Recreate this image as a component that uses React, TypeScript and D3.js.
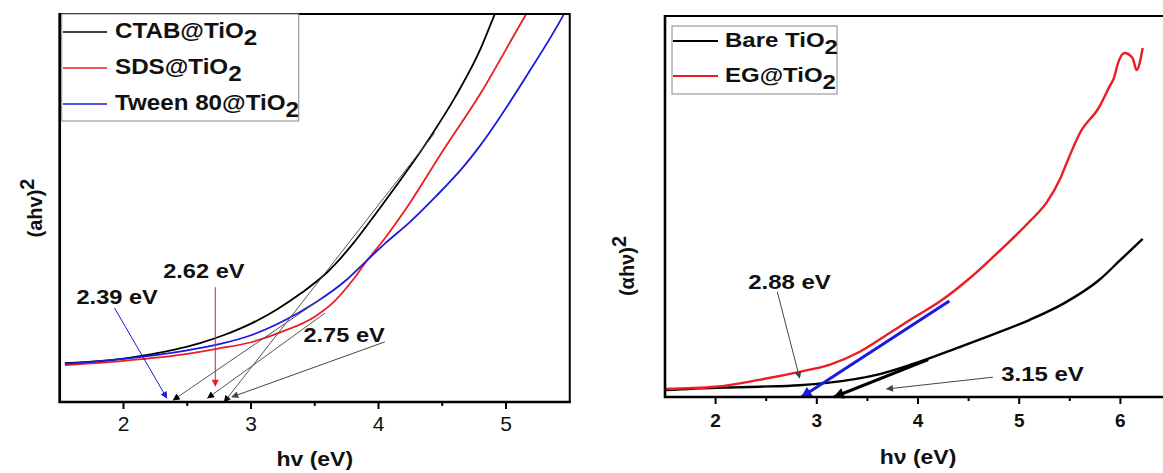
import React from "react";
import * as d3 from "d3";

// ---------- Left panel data ----------
const ctabX = [1.54, 1.8, 2.0, 2.2, 2.4, 2.6, 2.8, 3.0, 3.2, 3.4, 3.6, 3.8, 4.0, 4.2, 4.4, 4.6, 4.8, 4.9, 5.0];
const ctabY = [1.0, 1.05, 1.12, 1.22, 1.35, 1.52, 1.74, 2.02, 2.38, 2.82, 3.35, 4.08, 4.95, 5.85, 6.8, 7.85, 9.1, 9.9, 10.7];
const sdsX = [1.54, 2.0, 2.5, 2.75, 3.0, 3.25, 3.5, 3.65, 3.8, 3.9, 4.05, 4.25, 4.5, 4.8, 5.15, 5.25];
const sdsY = [0.95, 1.06, 1.24, 1.38, 1.54, 1.82, 2.2, 2.58, 3.15, 3.6, 4.22, 5.15, 6.45, 7.95, 9.95, 10.5];
const tweenX = [1.54, 2.0, 2.5, 2.75, 3.0, 3.25, 3.5, 3.75, 3.9, 4.05, 4.25, 4.45, 4.65, 4.8, 5.17, 5.45, 5.55];
const tweenY = [0.98, 1.11, 1.33, 1.49, 1.72, 2.08, 2.55, 3.15, 3.62, 4.08, 4.65, 5.3, 6.0, 6.62, 8.45, 9.97, 10.6];
const leftTicks = [2, 3, 4, 5];
const leftMinor = [2.5, 3.5, 4.5];
const leftLegend = ["CTAB@TiO", "SDS@TiO", "Tween 80@TiO"];
// tangents [x0,y0,x1,y1] from curve down to axis
const leftTangents = [
  [4.44, 6.93, 2.79, 0.0],
  [3.56, 2.68, 2.39, 0.05],
  [3.58, 2.29, 2.66, 0.1],
];
const leftLabels = [
  { t: "2.39 eV", x: 1.95, y: 2.71, ax0: 1.93, ay0: 2.42, ax1: 2.34, ay1: 0.1, c: "blue" },
  { t: "2.62 eV", x: 2.63, y: 3.38, ax0: 2.72, ay0: 2.96, ax1: 2.72, ay1: 0.41, c: "red" },
  { t: "2.75 eV", x: 3.73, y: 1.73, ax0: 4.05, ay0: 1.55, ax1: 2.85, ay1: 0.13, c: "gray" },
];

// ---------- Right panel data ----------
const bareX = [1.5, 2.0, 2.43, 2.83, 3.1, 3.59, 3.92, 4.41, 4.75, 5.1, 5.45, 5.79, 5.99, 6.22];
const bareY = [0.18, 0.24, 0.27, 0.31, 0.37, 0.58, 0.84, 1.31, 1.65, 2.02, 2.47, 3.07, 3.57, 4.15];
const egX = [1.5, 2.0, 2.43, 2.83, 3.13, 3.42, 3.72, 3.92, 4.24, 4.49, 4.74, 5.1, 5.27, 5.4, 5.47, 5.6, 5.79, 5.89, 5.94, 5.97, 6.04, 6.12, 6.16, 6.22];
const egY = [0.21, 0.27, 0.45, 0.66, 0.85, 1.18, 1.68, 2.02, 2.55, 3.07, 3.67, 4.6, 5.1, 5.7, 6.15, 6.93, 7.61, 8.14, 8.4, 8.71, 9.03, 8.9, 8.58, 9.16];
const rightTicks = [2, 3, 4, 5, 6];
const rightMinor = [2.5, 3.5, 4.5, 5.5];
const rightLegend = ["Bare TiO", "EG@TiO"];
const rightTangents = [
  { x0: 4.31, y0: 2.52, x1: 2.85, y1: 0.0, c: "blue" },
  { x0: 4.1, y0: 0.98, x1: 3.17, y1: 0.0, c: "black" },
];
const rightLabels = [
  { t: "2.88 eV", x: 2.73, y: 3.02, ax0: 2.61, ay0: 2.76, ax1: 2.83, ay1: 0.5 },
  { t: "3.15 eV", x: 5.23, y: 0.6, ax0: 4.74, ay0: 0.52, ax1: 3.69, ay1: 0.21 },
];

const FONT = "'Liberation Sans', Arial, Helvetica, sans-serif";
const RED = "#ec1c24";
const BLUE = "#1a1ae0";
const colorOf: Record<string, string> = { blue: BLUE, red: RED, gray: "#444", black: "#000" };

function zip(xs: number[], ys: number[]): [number, number][] {
  return xs.map((x, i) => [x, ys[i]]);
}

function SText(props: any) {
  const { x, y, size, sx = 1, weight = "bold", anchor = "start", fill = "#111", children } = props;
  return (
    <text
      transform={`translate(${x},${y}) scale(${sx},1)`}
      fontFamily={FONT}
      fontSize={size}
      fontWeight={weight}
      textAnchor={anchor}
      fill={fill}
    >
      {children}
    </text>
  );
}

export default function App() {
  const lx = d3.scaleLinear().domain([1.5, 5.5]).range([59.75, 569.75]);
  const ly = d3.scaleLinear().domain([0, 10]).range([402, 14]);
  const rx = d3.scaleLinear().domain([1.5, 6.5]).range([665, 1171]);
  const ry = d3.scaleLinear().domain([0, 10]).range([397, 16]);

  const lLine = d3.line<[number, number]>().x((d) => lx(d[0])).y((d) => ly(d[1])).curve(d3.curveMonotoneX);
  const rLine = d3.line<[number, number]>().x((d) => rx(d[0])).y((d) => ry(d[1])).curve(d3.curveMonotoneX);

  const leftSeries = [
    { d: zip(ctabX, ctabY), c: "#000" },
    { d: zip(sdsX, sdsY), c: RED },
    { d: zip(tweenX, tweenY), c: BLUE },
  ];
  const leftColors = ["#000", RED, BLUE];
  const rightColors = ["#000", RED];

  const markers = Object.entries(colorOf).map(([k, c]) => (
    <marker
      key={k}
      id={`ah-${k}`}
      viewBox="0 0 10 10"
      refX={9}
      refY={5}
      markerWidth={9}
      markerHeight={7}
      orient="auto"
      markerUnits="userSpaceOnUse"
    >
      <path d="M0,0 L10,5 L0,10 z" fill={c} />
    </marker>
  ));

  return (
    <svg width={1163} height={473} style={{ position: "absolute", left: 0, top: 0, background: "#fff" }}>
      <defs>
        {markers}
        <marker id="big-blue" viewBox="0 0 10 10" refX={9} refY={5} markerWidth={14} markerHeight={11} orient="auto" markerUnits="userSpaceOnUse">
          <path d="M0,0 L10,5 L0,10 z" fill={BLUE} />
        </marker>
        <marker id="big-black" viewBox="0 0 10 10" refX={9} refY={5} markerWidth={14} markerHeight={11} orient="auto" markerUnits="userSpaceOnUse">
          <path d="M0,0 L10,5 L0,10 z" fill="#000" />
        </marker>
        <clipPath id="clipL">
          <rect x={lx(1.5)} y={ly(10)} width={lx(5.5) - lx(1.5)} height={ly(0) - ly(10)} />
        </clipPath>
        <clipPath id="clipR">
          <rect x={rx(1.5)} y={ry(10)} width={rx(6.5) - rx(1.5)} height={ry(0) - ry(10)} />
        </clipPath>
      </defs>

      {/* ================= LEFT PANEL ================= */}
      <g clipPath="url(#clipL)">
        {leftSeries.map((s, i) => (
          <path key={i} d={lLine(s.d) || ""} fill="none" stroke={s.c} strokeWidth={1.8} />
        ))}
        {leftTangents.map((t, i) => (
          <line
            key={i}
            x1={lx(t[0])}
            y1={ly(t[1])}
            x2={lx(t[2])}
            y2={ly(t[3])}
            stroke="#555"
            strokeWidth={1}
            markerEnd="url(#ah-black)"
          />
        ))}
      </g>
      {leftLabels.map((l, i) => (
        <g key={i}>
          <line
            x1={lx(l.ax0)}
            y1={ly(l.ay0)}
            x2={lx(l.ax1)}
            y2={ly(l.ay1)}
            stroke={colorOf[l.c]}
            strokeWidth={1}
            markerEnd={`url(#ah-${l.c})`}
          />
          <SText x={lx(l.x)} y={ly(l.y) + 7} size={20} sx={1.18} anchor="middle">
            {l.t}
          </SText>
        </g>
      ))}
      <rect x={lx(1.5)} y={ly(10)} width={lx(5.5) - lx(1.5)} height={ly(0) - ly(10)} fill="none" stroke="#000" strokeWidth={2} />
      <line x1={lx(1.5)} y1={ly(10) - 1} x2={lx(1.5)} y2={ly(0) + 1} stroke="#000" strokeWidth={2.6} />
      <line x1={lx(1.5) - 1} y1={ly(0)} x2={lx(5.5) + 1} y2={ly(0)} stroke="#000" strokeWidth={2.6} />
      {leftTicks.map((t) => (
        <g key={t}>
          <line x1={lx(t)} x2={lx(t)} y1={ly(0)} y2={ly(0) + 7} stroke="#000" strokeWidth={2} />
          <text x={lx(t)} y={ly(0) + 28.5} fontFamily={FONT} fontSize={21} textAnchor="middle" fill="#111">
            {t}
          </text>
        </g>
      ))}
      {leftMinor.map((t) => (
        <line key={t} x1={lx(t)} x2={lx(t)} y1={ly(0)} y2={ly(0) + 4} stroke="#000" strokeWidth={2} />
      ))}
      <SText x={(lx(1.5) + lx(5.5)) / 2} y={466} size={20} sx={1.15} anchor="middle">
        hv (eV)
      </SText>
      <text transform={`translate(42,${(ly(0) + ly(10)) / 2}) rotate(-90)`} fontFamily={FONT} fontSize={20} fontWeight="bold" textAnchor="middle" fill="#111">
        (ahv)<tspan dy={-8}>2</tspan>
      </text>
      <rect x={lx(1.5) + 2} y={ly(10)} width={237} height={107} fill="#fff" stroke="#888" strokeWidth={1} />
      {leftLegend.map((name, i) => (
        <g key={name}>
          <line x1={63} x2={107} y1={32 + i * 36} y2={32 + i * 36} stroke={leftColors[i]} strokeWidth={1.6} />
          <SText x={115} y={38 + i * 36} size={22} sx={1.1}>
            {name}
            <tspan dy={7}>2</tspan>
          </SText>
        </g>
      ))}

      {/* ================= RIGHT PANEL ================= */}
      <g clipPath="url(#clipR)">
        <path d={rLine(zip(bareX, bareY)) || ""} fill="none" stroke="#000" strokeWidth={2.4} />
        <path d={rLine(zip(egX, egY)) || ""} fill="none" stroke={RED} strokeWidth={2.4} />
      </g>
      {rightTangents.map((t, i) => (
        <line
          key={i}
          x1={rx(t.x0)}
          y1={ry(t.y0)}
          x2={rx(t.x1)}
          y2={ry(t.y1)}
          stroke={colorOf[t.c]}
          strokeWidth={3}
          markerEnd={`url(#big-${t.c})`}
        />
      ))}
      {rightLabels.map((l, i) => (
        <g key={i}>
          <line
            x1={rx(l.ax0)}
            y1={ry(l.ay0)}
            x2={rx(l.ax1)}
            y2={ry(l.ay1)}
            stroke="#444"
            strokeWidth={1}
            markerEnd="url(#ah-gray)"
          />
          <SText x={rx(l.x)} y={ry(l.y) + 7} size={20} sx={1.2} anchor="middle">
            {l.t}
          </SText>
        </g>
      ))}
      <rect x={rx(1.5)} y={ry(10)} width={rx(6.5) - rx(1.5)} height={ry(0) - ry(10)} fill="none" stroke="#000" strokeWidth={2} />
      <line x1={rx(1.5)} y1={ry(10) - 1} x2={rx(1.5)} y2={ry(0) + 1} stroke="#000" strokeWidth={2.6} />
      <line x1={rx(1.5) - 1} y1={ry(0)} x2={rx(6.5)} y2={ry(0)} stroke="#000" strokeWidth={2.6} />
      {rightTicks.map((t) => (
        <g key={t}>
          <line x1={rx(t)} x2={rx(t)} y1={ry(0)} y2={ry(0) + 7} stroke="#000" strokeWidth={2} />
          <text x={rx(t)} y={ry(0) + 30} fontFamily={FONT} fontSize={19} fontWeight="bold" textAnchor="middle" fill="#111">
            {t}
          </text>
        </g>
      ))}
      {rightMinor.map((t) => (
        <line key={t} x1={rx(t)} x2={rx(t)} y1={ry(0)} y2={ry(0) + 4} stroke="#000" strokeWidth={2} />
      ))}
      <SText x={rx(4)} y={464} size={20} sx={1.15} anchor="middle">
        hν (eV)
      </SText>
      <text transform={`translate(634,266) rotate(-90)`} fontFamily={FONT} fontSize={20} fontWeight="bold" textAnchor="middle" fill="#111">
        (αhν)<tspan dy={-8}>2</tspan>
      </text>
      <rect x={672} y={26} width={165} height={68} fill="#fff" stroke="#888" strokeWidth={1} />
      {rightLegend.map((name, i) => (
        <g key={name}>
          <line x1={673} x2={718} y1={41 + i * 35} y2={41 + i * 35} stroke={rightColors[i]} strokeWidth={2.2} />
          <SText x={725} y={47 + i * 35} size={20} sx={1.2}>
            {name}
            <tspan dy={7}>2</tspan>
          </SText>
        </g>
      ))}
    </svg>
  );
}
